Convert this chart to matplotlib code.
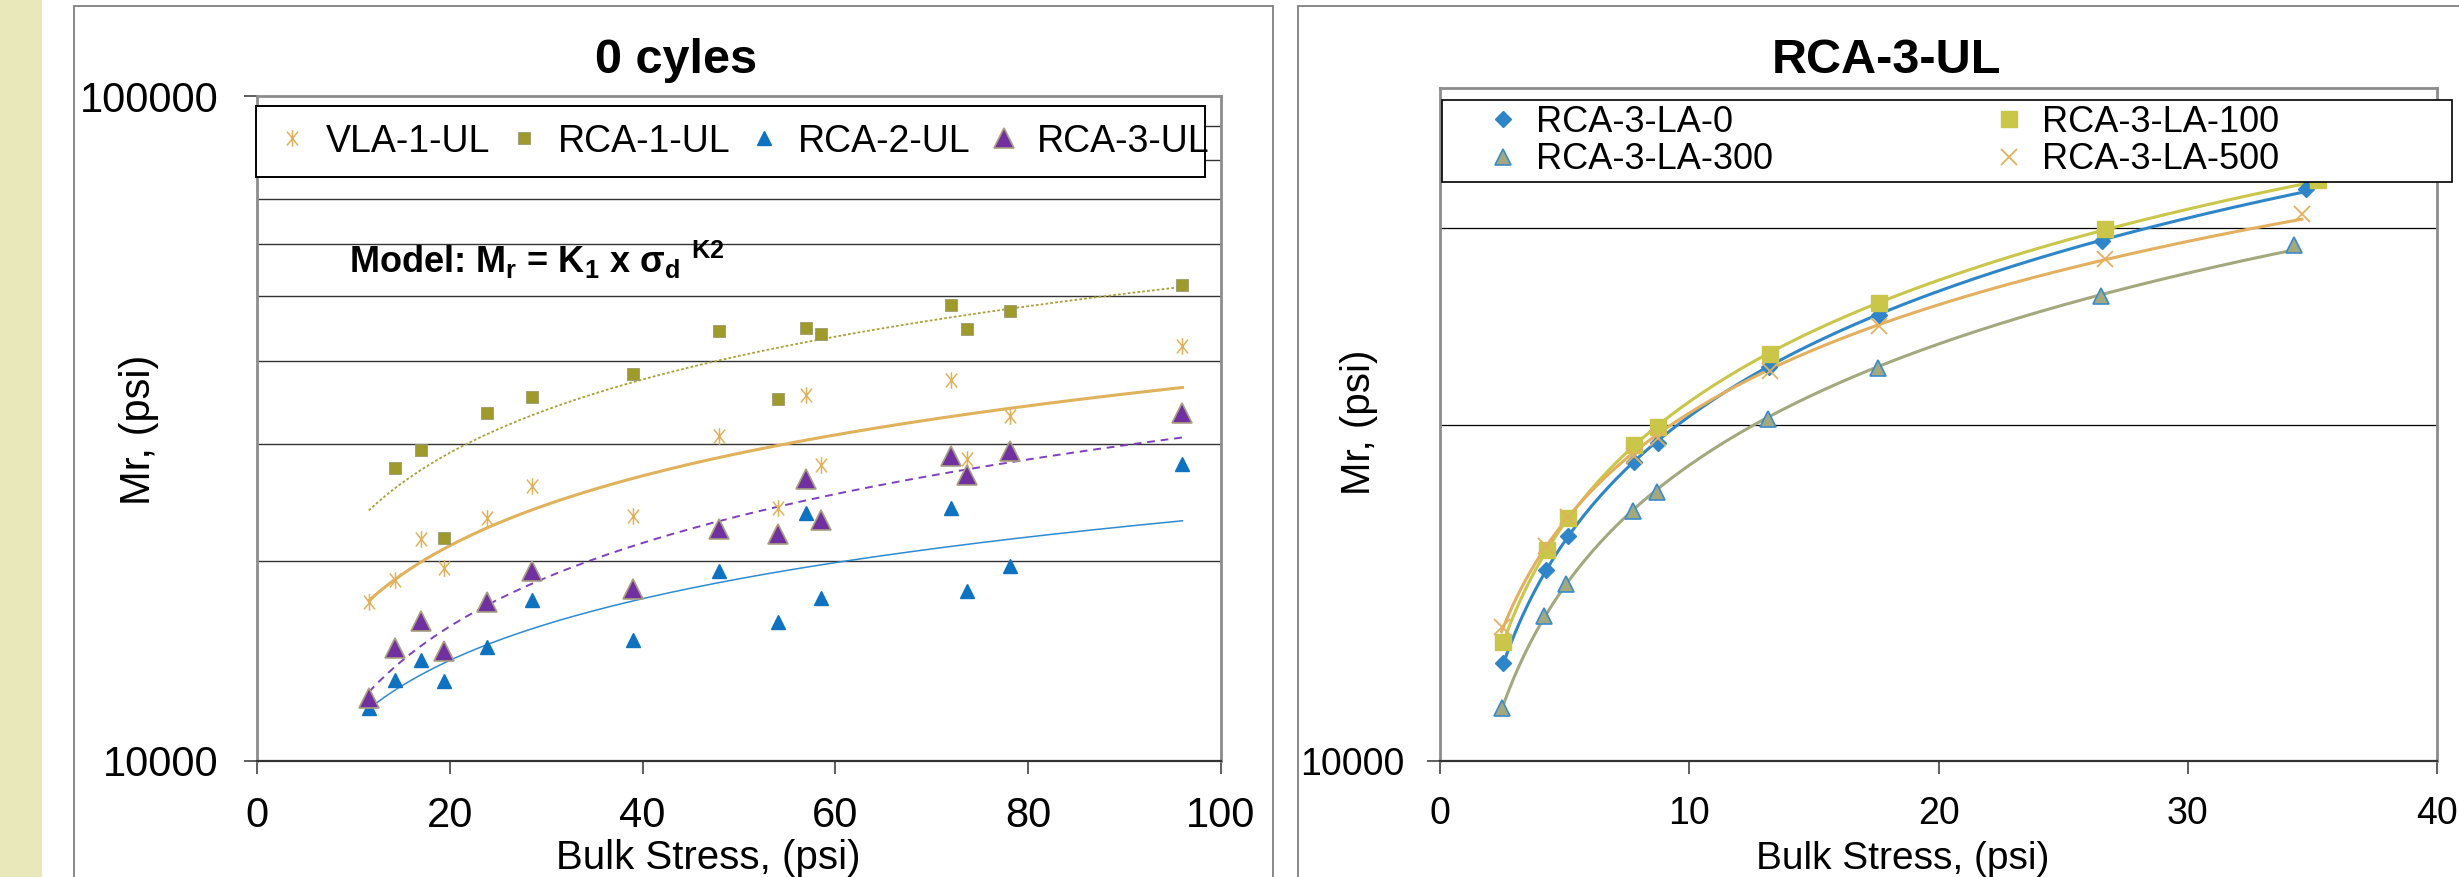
import matplotlib
matplotlib.use("Agg")
import matplotlib.pyplot as plt
import numpy as np
from matplotlib.patches import Rectangle
from matplotlib.lines import Line2D
from matplotlib.path import Path
from matplotlib.ticker import NullFormatter

plt.rcParams["font.family"] = ["Liberation Sans", "DejaVu Sans"]
plt.rcParams["mathtext.fontset"] = "custom"
plt.rcParams["mathtext.rm"] = "Liberation Sans"
plt.rcParams["mathtext.it"] = "Liberation Sans:italic"
plt.rcParams["mathtext.bf"] = "Liberation Sans:bold"

# ---- left chart: 0 cycles (bulk stress vs Mr) ----
x_left = [11.6, 14.3, 17.0, 19.4, 23.9, 28.5, 39.0, 47.9, 54.0, 57.0, 58.5, 72.0, 73.6, 78.1, 96.0]
vla1 = [17340, 18700, 21590, 19510, 23170, 25950, 23350, 30760, 24040, 35490, 27850, 37410, 28430, 33050, 42080]
x_rca1 = x_left[1:]
rca1 = [27580, 29320, 21660, 33320, 35240, 38210, 44250, 35020, 44780, 43840, 48560, 44600, 47460, 51970]
rca2 = [12030, 13260, 14190, 13180, 14830, 17470, 15180, 19320, 16180, 23620, 17580, 24030, 18030, 19620, 27940]
rca3 = [12440, 14800, 16240, 14660, 17340, 19320, 18160, 22340, 21950, 26530, 23000, 28770, 26930, 29220, 33320]

# ---- right chart: RCA-3-UL at different LA cycles ----
x_la0 = [2.53, 4.25, 5.15, 7.77, 8.73, 13.19, 17.62, 26.57, 34.76]
la0 = [12230, 14830, 15880, 18530, 19240, 22520, 25060, 29180, 32520]
x_la100 = [2.53, 4.28, 5.15, 7.80, 8.73, 13.22, 17.62, 26.66, 35.24]
la100 = [12780, 15430, 16490, 19170, 19910, 23140, 25700, 29890, 33080]
x_la300 = [2.47, 4.19, 5.06, 7.74, 8.70, 13.16, 17.56, 26.51, 34.28]
la300 = [11160, 13470, 14410, 16720, 17400, 20210, 22470, 26060, 28950]
x_la500 = [2.47, 4.25, 5.15, 7.77, 8.73, 13.22, 17.62, 26.66, 34.58]
la500 = [13170, 15570, 16520, 18760, 19460, 22320, 24500, 28100, 30830]

W, H = 2459, 877


def fx(px):
    return px / W


def fy(py):
    # pixel measured from the top of the picture -> figure fraction
    return 1 - py / H


def power_trend(x, y, x_range):
    """Excel style power trendline: Mr = K1 * x^K2"""
    k2, lnk1 = np.polyfit(np.log(x), np.log(y), 1)
    xs = np.linspace(x_range[0], x_range[1], 200)
    return xs, np.exp(lnk1) * xs ** k2


# Excel "star" marker: an x with a vertical bar through it
star = Path([(-0.4, -0.5), (0.4, 0.5), (-0.4, 0.5), (0.4, -0.5), (0, -0.6), (0, 0.6)],
            [Path.MOVETO, Path.LINETO, Path.MOVETO, Path.LINETO, Path.MOVETO, Path.LINETO])

fig = plt.figure(figsize=(W / 100, H / 100), dpi=100)

# side strip and panel frames
fig.add_artist(Rectangle((0, 0), fx(42), 1, transform=fig.transFigure,
                         facecolor="#E8E8BA", edgecolor="none", zorder=-5))
fig.add_artist(Rectangle((fx(74), -0.1), fx(1273 - 74), fy(6) + 0.1, transform=fig.transFigure,
                         facecolor="none", edgecolor="#7F7F7F", lw=1.3, zorder=-4))
fig.add_artist(Rectangle((fx(1298), -0.1), fx(1200), fy(6) + 0.1, transform=fig.transFigure,
                         facecolor="none", edgecolor="#7F7F7F", lw=1.3, zorder=-4))

ax1 = fig.add_axes([fx(257), fy(761), fx(1221 - 257), (761 - 96) / H])
ax2 = fig.add_axes([fx(1440), fy(761), fx(2437 - 1440), (761 - 88) / H])

# ---- left axes ----
trend_rng = (min(x_left), max(x_left))
tx, ty = power_trend(x_rca1, rca1, trend_rng)
ax1.plot(tx, ty, color="#A6A23A", lw=1.3, ls=(0, (1.5, 1.2)), zorder=2)
tx, ty = power_trend(x_left, vla1, trend_rng)
ax1.plot(tx, ty, color="#E0B25C", lw=2.2, zorder=2)
tx, ty = power_trend(x_left, rca3, trend_rng)
ax1.plot(tx, ty, color="#7F3FBF", lw=1.4, ls=(0, (4, 3)), zorder=2)
tx, ty = power_trend(x_left, rca2, trend_rng)
ax1.plot(tx, ty, color="#2E8BD0", lw=1.1, zorder=2)

vla_style = dict(marker=star, ms=12, mew=1.1, color="#E0B25C", mfc="none", ls="none")
rca1_style = dict(marker="s", ms=9, color="#9E9A2B", mec="#9A9A70", mew=0.6, ls="none")
rca2_style = dict(marker="^", ms=10.5, color="#0E72C0", mec="#0E72C0", ls="none")
rca3_style = dict(marker="^", ms=14, color="#7030A0", mec="#A8A080", mew=1.2, ls="none")
ax1.plot(x_left, vla1, zorder=3, **vla_style)
ax1.plot(x_rca1, rca1, zorder=3, **rca1_style)
ax1.plot(x_left, rca2, zorder=3, **rca2_style)
ax1.plot(x_left, rca3, zorder=4, **rca3_style)

ax1.set_yscale("log")
ax1.set_ylim(10000, 100000)
ax1.set_xlim(0, 100)
ax1.set_xticks(np.arange(0, 101, 20))
ax1.set_yticks([10000, 100000], labels=["10000", "100000"])
ax1.set_yticks(np.arange(20000, 100000, 10000), minor=True)
ax1.yaxis.set_minor_formatter(NullFormatter())
ax1.grid(True, which="minor", axis="y", color="#333333", lw=1.0)
ax1.tick_params(axis="both", which="major", direction="out", length=9.4, width=1.1,
                labelsize=30, color="#333333")
ax1.tick_params(axis="x", pad=16)
ax1.tick_params(axis="y", pad=18)
ax1.tick_params(axis="y", which="minor", length=0)

# ---- right axes ----
series = [
    (x_la0, la0, "#2E86C8", dict(marker="D", ms=8.5, color="#2E86C8", ls="none")),
    (x_la100, la100, "#C9C64A", dict(marker="s", ms=12, color="#C9C64A", ls="none")),
    (x_la300, la300, "#A4A87E", dict(marker="^", ms=12, color="#A4A87E", mec="#3A8BCB", mew=1.2, ls="none")),
    (x_la500, la500, "#E3B05F", dict(marker="x", ms=12, mew=1.3, color="#E3B05F", ls="none")),
]
for xv, yv, col, st in series:
    tx, ty = power_trend(xv, yv, (min(xv), max(xv)))
    ax2.plot(tx, ty, color=col, lw=2.2, zorder=2)
for xv, yv, col, st in series:
    ax2.plot(xv, yv, zorder=3, **st)

ax2.set_yscale("log")
ax2.set_ylim(10000, 40000)
ax2.set_xlim(0, 40)
ax2.set_xticks(np.arange(0, 41, 10))
ax2.set_yticks([10000], labels=["10000"])
ax2.set_yticks([20000, 30000], minor=True)
ax2.yaxis.set_minor_formatter(NullFormatter())
ax2.grid(True, which="minor", axis="y", color="#000000", lw=0.9)
ax2.tick_params(axis="both", which="major", direction="out", length=9.4, width=1.1,
                labelsize=27, color="#333333")
ax2.tick_params(axis="x", pad=16)
ax2.tick_params(axis="y", pad=16)
ax2.tick_params(axis="y", which="minor", length=0)

for ax in (ax1, ax2):
    for side in ("top", "right", "left"):
        ax.spines[side].set_color("#8C8C8C")
        ax.spines[side].set_linewidth(2.0)
    ax.spines["bottom"].set_color("#333333")
    ax.spines["bottom"].set_linewidth(1.6)

# ---- titles and axis labels ----
fig.text(fx(676), fy(73), "0 cyles", ha="center", va="baseline", fontsize=35, fontweight="bold")
fig.text(fx(1886), fy(73), "RCA-3-UL", ha="center", va="baseline", fontsize=35, fontweight="bold")
fig.text(fx(708), fy(869), "Bulk Stress, (psi)", ha="center", va="baseline", fontsize=29)
fig.text(fx(1903), fy(869), "Bulk Stress, (psi)", ha="center", va="baseline", fontsize=28)
fig.text(fx(139), fy(430), "Mr, (psi)", rotation=90, ha="center", va="center", fontsize=30)
fig.text(fx(1359), fy(422), "Mr, (psi)", rotation=90, ha="center", va="center", fontsize=29)
fig.text(fx(349), fy(273), r"Model: M$_\mathbf{r}$ = K$_\mathbf{1}$ x σ$_\mathbf{d}$ $^\mathbf{K2}$",
         ha="left", va="baseline", fontsize=26, fontweight="bold")

# ---- legends (frame drawn separately so its box can be sized exactly) ----
fig.add_artist(Rectangle((fx(256), fy(177)), fx(1205 - 256), (177 - 106) / H,
                         transform=fig.transFigure, facecolor="white", edgecolor="black",
                         lw=1.4, zorder=4))
h_left = [Line2D([], [], **vla_style), Line2D([], [], **rca1_style),
          Line2D([], [], **rca2_style), Line2D([], [], **rca3_style)]
leg1 = fig.legend(h_left, ["VLA-1-UL", "RCA-1-UL", "RCA-2-UL", "RCA-3-UL"],
                  loc="center left", bbox_to_anchor=(fx(277), fy(177), fx(1210 - 277), (177 - 106) / H),
                  bbox_transform=fig.transFigure, mode="expand", ncol=4, frameon=False,
                  fontsize=27, handlelength=0.8, handletextpad=0.5, borderpad=0,
                  borderaxespad=0, numpoints=1)
leg1.set_zorder(6)

fig.add_artist(Rectangle((fx(1442), fy(182)), fx(2452 - 1442), (182 - 100) / H,
                         transform=fig.transFigure, facecolor="white", edgecolor="black",
                         lw=1.2, zorder=4))
h_right = [Line2D([], [], **series[0][3]), Line2D([], [], **series[2][3]),
           Line2D([], [], **series[1][3]), Line2D([], [], **series[3][3])]
leg2 = fig.legend(h_right, ["RCA-3-LA-0", "RCA-3-LA-300", "RCA-3-LA-100", "RCA-3-LA-500"],
                  loc="center left", bbox_to_anchor=(fx(1489), fy(182), fx(790), (182 - 100) / H),
                  bbox_transform=fig.transFigure, mode="expand", ncol=2, frameon=False,
                  fontsize=26, handlelength=0.8, handletextpad=0.5, borderpad=0,
                  borderaxespad=0, labelspacing=0.08, numpoints=1)
leg2.set_zorder(6)

fig.savefig("out.png", dpi=100)
